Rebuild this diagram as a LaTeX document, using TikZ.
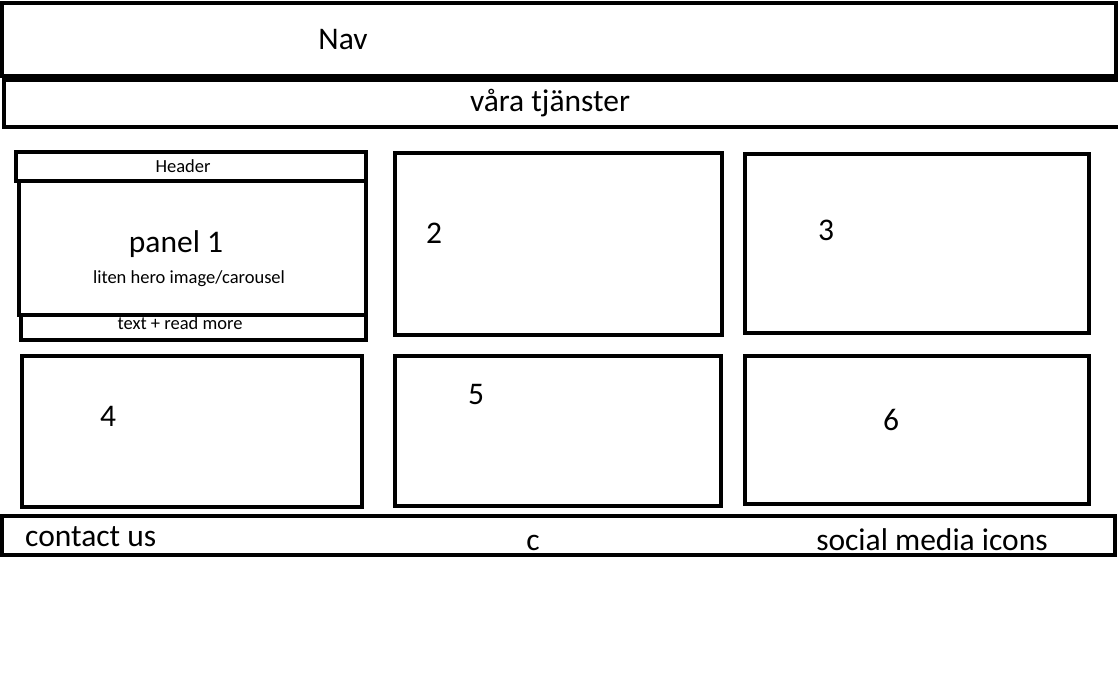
\documentclass[tikz,border=0pt]{standalone}
\usepackage{fontspec}
\setmainfont{Carlito}
\usepackage{tikz}
\usetikzlibrary{positioning, calc}

\begin{document}
\begin{tikzpicture}[x=1pt, y=-1pt]
      \tikzstyle{frame} = [draw=black, line width=4.6pt]
      \tikzstyle{big} = [inner sep=0pt, font=\fontsize{31.5}{36}\selectfont]
      \tikzstyle{small} = [inner sep=0pt, font=\fontsize{18.5}{22}\selectfont]

      % Page
      \fill[white] (0,0) rectangle (1118,677);
      \useasboundingbox (0,0) rectangle (1118,677);

      % Nav
      \draw[frame] (2,3) rectangle (1116,76);
      \node (nav) [big] at (343,40) {Nav};

      % Tjanster
      \draw[frame] (1118,80) -- (4,80) -- (4,127) -- (1118,127);
      \node (tjanster) [big] at (550,103) {våra tjänster};

      % Panel 1
      \node (rm) [small] at (180,323) {text + read more};
      \draw[frame] (16,152) rectangle (366,181);
      \draw[frame] (19,181) rectangle (366,315);
      \draw[frame] (21,315) rectangle (366,340);
      \node (header) [small] at (183,166) {Header};
      \node (p1) [big] at (176,244) {panel 1};
      \node (hero) [small] at (189,279) {liten hero image/carousel};

      % Panels 2-6
      \draw[frame] (395,153) rectangle (722,335);
      \node (p2) [big] at (434,233) {2};
      \draw[frame] (745,154) rectangle (1089,333);
      \node (p3) [big] at (826,230) {3};
      \draw[frame] (22,356) rectangle (362,507);
      \node (p4) [big] at (108,416) {4};
      \draw[frame] (395,356) rectangle (721,506);
      \node (p5) [big] at (476,394) {5};
      \draw[frame] (745,356) rectangle (1089,504);
      \node (p6) [big] at (891,420) {6};

      % Footer
      \draw[frame] (2,516) rectangle (1115,555);
      \node (contact) [big, anchor=west] at (25,537) {contact us};
      \node (c) [big] at (533,543) {c};
      \node (social) [big] at (932,540) {social media icons};
    \end{tikzpicture}
\end{document}
